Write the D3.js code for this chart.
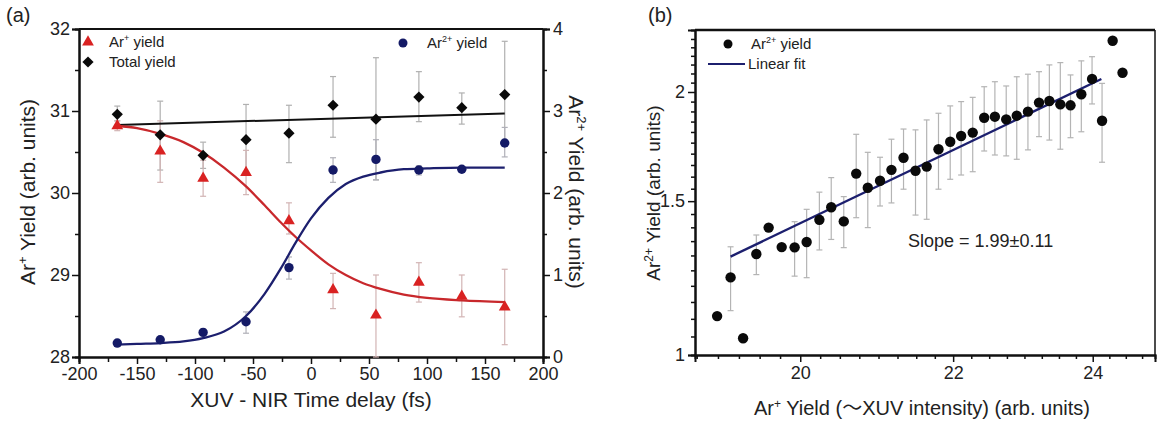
<!DOCTYPE html>
<html><head><meta charset="utf-8">
<script src="https://cdn.jsdelivr.net/npm/d3@7"></script>
<style>
body{margin:0;background:#fff}
text{font-family:Arial,"Liberation Sans","Noto Sans CJK SC",sans-serif;fill:#222}
</style>
</head><body>
<svg id="c" width="1157" height="424"></svg>
<script>
// ---------- Panel (a) data ----------
const delays = [-167,-130,-93,-56,-19,19,56,93,130,167];
const arPlus   = [30.82,30.51,30.18,30.25,29.66,28.82,28.51,28.91,28.74,28.61];
const arPlusLo = [30.76,30.13,29.96,29.98,29.50,28.59,28.00,28.67,28.49,28.15];
const arPlusHi = [30.88,30.88,30.40,30.52,29.88,29.02,29.00,29.15,29.00,29.07];
const total    = [30.96,30.71,30.46,30.65,30.73,31.07,30.90,31.17,31.04,31.20];
const totalLo  = [30.88,30.28,30.30,30.23,30.37,30.68,30.16,30.87,30.84,30.58];
const totalHi  = [31.06,31.12,30.62,31.08,31.07,31.42,31.65,31.48,31.22,31.85];
const ar2      = [0.17,0.21,0.30,0.43,1.09,2.28,2.41,2.28,2.29,2.61];
const ar2Lo    = [0.14,0.18,0.26,0.29,0.95,2.13,2.16,2.22,2.26,2.44];
const ar2Hi    = [0.20,0.24,0.34,0.55,1.22,2.43,2.65,2.33,2.32,2.80];
// fitted curves
const fitDelay = [-167,-150,-130,-110,-93,-75,-56,-40,-26,-13,0,15,30,45,60,80,100,130,167];
const arPlusFit= [30.82,30.79,30.72,30.62,30.49,30.31,30.08,29.85,29.64,29.46,29.30,29.13,29.00,28.90,28.83,28.76,28.72,28.69,28.67];
const ar2Fit   = [0.15,0.16,0.17,0.19,0.23,0.31,0.50,0.77,1.08,1.40,1.69,1.94,2.11,2.20,2.25,2.29,2.30,2.31,2.31];
const totalFitX = [-167,167];
const totalFitY = [30.83,30.97];
const xTicksA = [-200,-150,-100,-50,0,50,100,150,200];
const yTicksAL = [28,29,30,31,32];
const yTicksAR = [0,1,2,3,4];

// ---------- Panel (b) data ----------
const arPlusB = [18.99,19.15,19.30,19.46,19.61,19.77,19.93,20.08,20.24,20.39,20.55,20.71,20.86,21.02,21.17,21.33,21.49,21.64,21.80,21.96,22.11,22.27,22.43,22.58,22.74,22.89,23.05,23.21,23.36,23.52,23.67,23.83,23.99,24.14,24.30,24.45];
const ar2B    = [1.108,1.227,1.045,1.305,1.399,1.329,1.328,1.347,1.428,1.476,1.422,1.613,1.554,1.583,1.629,1.682,1.625,1.643,1.720,1.754,1.781,1.797,1.869,1.874,1.861,1.879,1.899,1.945,1.953,1.936,1.931,1.988,2.070,1.854,2.289,2.104];
const ar2BLo  = [null,1.124,null,1.236,null,null,1.231,1.226,1.319,1.356,1.327,1.436,1.399,1.481,1.493,1.548,1.446,1.430,1.548,1.589,1.607,1.621,1.712,1.694,1.690,1.675,1.717,1.778,1.762,1.720,1.773,1.801,1.938,1.662,null,null];
const ar2BHi  = [null,1.330,null,1.372,null,null,1.421,1.468,1.536,1.596,1.518,1.789,1.706,1.684,1.766,1.814,1.810,1.858,1.891,1.928,1.950,1.972,2.028,2.055,2.032,2.082,2.096,2.110,2.148,2.161,2.092,2.171,2.195,2.046,null,null];
const linFitX = [19.15,24.13];
const linFitY = [1.296,2.07];
const xTicksB = [20,22,24];
const yTicksB = [1,1.5,2];

const svg = d3.select("#c");

function styleAxis(g, w){
  g.select(".domain").attr("stroke","#111").attr("stroke-width",w);
  g.selectAll(".tick line").attr("stroke","#111").attr("stroke-width",1.5);
  g.selectAll(".tick text").attr("fill","#222").style("font-size","18px")
    .style("font-family","Arial, 'Liberation Sans', sans-serif");
}
function supLabel(sel, parts){
  parts.forEach(p=>{
    const t = sel.append("tspan").text(p.t);
    if(p.sup){ t.attr("dy", p.dy).style("font-size", p.fs); }
  });
}

// ================= Panel (a) =================
const ax = d3.scaleLinear().domain([-200,200]).range([79,543]);
const ayL = d3.scaleLinear().domain([28,32]).range([357,29]);
const ayR = d3.scaleLinear().domain([0,4]).range([357,29]);

// minor ticks
svg.append("g").attr("transform","translate(0,357)")
  .call(d3.axisBottom(ax).tickValues(d3.range(-175,200,50)).tickSize(5).tickFormat(""))
  .call(g=>styleAxis(g,2));
svg.append("g").attr("transform","translate(79,0)")
  .call(d3.axisLeft(ayL).tickValues(d3.range(28.5,32,1)).tickSize(4).tickFormat(""))
  .call(g=>styleAxis(g,2));
svg.append("g").attr("transform","translate(543,0)")
  .call(d3.axisRight(ayR).tickValues(d3.range(0.5,4,1)).tickSize(4).tickFormat(""))
  .call(g=>styleAxis(g,2));
// major ticks
svg.append("g").attr("transform","translate(0,357)")
  .call(d3.axisBottom(ax).tickValues(xTicksA).tickSize(7).tickPadding(3).tickFormat(d=>String(d)))
  .call(g=>styleAxis(g,2));
svg.append("g").attr("transform","translate(79,0)")
  .call(d3.axisLeft(ayL).tickValues(yTicksAL).tickSize(7).tickPadding(2).tickFormat(d=>String(d)))
  .call(g=>styleAxis(g,2));
svg.append("g").attr("transform","translate(543,0)")
  .call(d3.axisRight(ayR).tickValues(yTicksAR).tickSize(7).tickPadding(3).tickFormat(d=>String(d)))
  .call(g=>styleAxis(g,2));
svg.append("line").attr("x1",ax(-200)).attr("x2",ax(200)).attr("y1",ayL(32)).attr("y2",ayL(32))
  .attr("stroke","#111").attr("stroke-width",2);

// error bars
function errBars(g, xs, lo, hi, xsc, ysc, color, cap){
  xs.forEach((x,i)=>{
    if(lo[i]==null) return;
    const px = xsc(x);
    g.append("line").attr("x1",px).attr("x2",px).attr("y1",ysc(lo[i])).attr("y2",ysc(hi[i]))
      .attr("stroke",color).attr("stroke-width",1.2);
    [lo[i],hi[i]].forEach(v=>g.append("line").attr("x1",px-cap).attr("x2",px+cap)
      .attr("y1",ysc(v)).attr("y2",ysc(v)).attr("stroke",color).attr("stroke-width",1.2));
  });
}
const ga = svg.append("g");
errBars(ga, delays, totalLo, totalHi, ax, ayL, "#b0b0b0", 3);
errBars(ga, delays, arPlusLo, arPlusHi, ax, ayL, "#d2b4b4", 3);
errBars(ga, delays, ar2Lo, ar2Hi, ax, ayR, "#b0b0b8", 3);

// fits
ga.append("path").datum(totalFitX.map((x,i)=>[x,totalFitY[i]]))
  .attr("d", d3.line().x(d=>ax(d[0])).y(d=>ayL(d[1])))
  .attr("fill","none").attr("stroke","#111").attr("stroke-width",2);
ga.append("path").datum(fitDelay.map((x,i)=>[x,arPlusFit[i]]))
  .attr("d", d3.line().curve(d3.curveMonotoneX).x(d=>ax(d[0])).y(d=>ayL(d[1])))
  .attr("fill","none").attr("stroke","#c8282c").attr("stroke-width",2.3);
ga.append("path").datum(fitDelay.map((x,i)=>[x,ar2Fit[i]]))
  .attr("d", d3.line().curve(d3.curveMonotoneX).x(d=>ax(d[0])).y(d=>ayR(d[1])))
  .attr("fill","none").attr("stroke","#1c1f6e").attr("stroke-width",2.3);

// markers
const tri = d3.symbol().type(d3.symbolTriangle).size(60);
const dia = d3.symbol().type(d3.symbolDiamond2).size(80);
ga.selectAll(".tri").data(delays).join("path")
  .attr("transform",(d,i)=>`translate(${ax(d)},${ayL(arPlus[i])})`)
  .attr("d",tri()).attr("fill","#d92222");
ga.selectAll(".dia").data(delays).join("path")
  .attr("transform",(d,i)=>`translate(${ax(d)},${ayL(total[i])})`)
  .attr("d",dia()).attr("fill","#0a0a0a");
ga.selectAll(".cir").data(delays).join("circle")
  .attr("cx",d=>ax(d)).attr("cy",(d,i)=>ayR(ar2[i])).attr("r",4.7).attr("fill","#141a66");

// legend (a)
svg.append("path").attr("transform","translate(88,42)").attr("d",tri()).attr("fill","#d92222");
svg.append("path").attr("transform","translate(88,62)").attr("d",dia()).attr("fill","#0a0a0a");
svg.append("circle").attr("cx",403).attr("cy",43).attr("r",4.5).attr("fill","#141a66");
const l1 = svg.append("text").attr("x",109).attr("y",47).style("font-size","15px");
supLabel(l1,[{t:"Ar"},{t:"+",sup:true,dy:-6,fs:"9px"},{t:" yield"}]);
l1.selectAll("tspan").filter((d,i)=>i==2).attr("dy",6);
svg.append("text").attr("x",109).attr("y",67).style("font-size","15px").text("Total yield");
const l3 = svg.append("text").attr("x",427).attr("y",48).style("font-size","15px");
supLabel(l3,[{t:"Ar"},{t:"2+",sup:true,dy:-6,fs:"9px"},{t:" yield"}]);
l3.selectAll("tspan").filter((d,i)=>i==2).attr("dy",6);

// axis labels (a)
svg.append("text").attr("x",311).attr("y",407).attr("text-anchor","middle").style("font-size","21px")
  .text("XUV - NIR Time delay (fs)");
const yl = svg.append("text").attr("transform","translate(35,192) rotate(-90)").attr("text-anchor","middle").style("font-size","21px");
supLabel(yl,[{t:"Ar"},{t:"+",sup:true,dy:-8,fs:"13px"},{t:" Yield (arb. units)"}]);
yl.selectAll("tspan").filter((d,i)=>i==2).attr("dy",8);
const yr = svg.append("text").attr("transform","translate(569,192) rotate(90)").attr("text-anchor","middle").style("font-size","21px");
supLabel(yr,[{t:"Ar"},{t:"2+",sup:true,dy:-8,fs:"13px"},{t:" Yield (arb. units)"}]);
yr.selectAll("tspan").filter((d,i)=>i==2).attr("dy",8);

svg.append("text").attr("x",6).attr("y",22).style("font-size","20px").text("(a)");
svg.append("text").attr("x",648).attr("y",22).style("font-size","20px").text("(b)");

// ================= Panel (b) =================
const bx = d3.scaleLog().domain([18.73,24.95]).range([695,1155]);
const by = d3.scaleLog().domain([1,2.355]).range([355,30]);

const minorX = d3.range(18.75,25,0.25).filter(v=>!xTicksB.some(t=>Math.abs(t-v)<1e-6));
const minorY = d3.range(1.05,2.35,0.05).filter(v=>!yTicksB.some(t=>Math.abs(t-v)<1e-6));
svg.append("g").attr("transform","translate(0,355)")
  .call(d3.axisBottom(bx).tickValues(minorX).tickSize(4).tickFormat(""))
  .call(g=>styleAxis(g,2));
svg.append("g").attr("transform","translate(695,0)")
  .call(d3.axisLeft(by).tickValues(minorY).tickSize(4).tickFormat(""))
  .call(g=>styleAxis(g,2));
svg.append("g").attr("transform","translate(0,355)")
  .call(d3.axisBottom(bx).tickValues(xTicksB).tickSize(7).tickPadding(4).tickFormat(d=>String(d)))
  .call(g=>styleAxis(g,2));
svg.append("g").attr("transform","translate(695,0)")
  .call(d3.axisLeft(by).tickValues(yTicksB).tickSize(7).tickPadding(3).tickFormat(d=>String(d)))
  .call(g=>styleAxis(g,2));
svg.append("line").attr("x1",695).attr("x2",1155).attr("y1",30).attr("y2",30).attr("stroke","#111").attr("stroke-width",2.5);
svg.append("line").attr("x1",1155).attr("x2",1155).attr("y1",30).attr("y2",355).attr("stroke","#111").attr("stroke-width",1.5);

const gb = svg.append("g");
errBars(gb, arPlusB, ar2BLo, ar2BHi, bx, by, "#b4b4b4", 3);
gb.append("path").datum(linFitX.map((x,i)=>[x,linFitY[i]]))
  .attr("d", d3.line().x(d=>bx(d[0])).y(d=>by(d[1])))
  .attr("fill","none").attr("stroke","#1c1f6e").attr("stroke-width",2.3);
gb.selectAll("circle").data(arPlusB).join("circle")
  .attr("cx",d=>bx(d)).attr("cy",(d,i)=>by(ar2B[i])).attr("r",5.2).attr("fill","#0a0a0a");

// legend (b)
svg.append("circle").attr("cx",728).attr("cy",44).attr("r",4.5).attr("fill","#0a0a0a");
const lb1 = svg.append("text").attr("x",751).attr("y",49).style("font-size","15px");
supLabel(lb1,[{t:"Ar"},{t:"2+",sup:true,dy:-6,fs:"9px"},{t:" yield"}]);
lb1.selectAll("tspan").filter((d,i)=>i==2).attr("dy",6);
svg.append("line").attr("x1",708).attr("x2",745).attr("y1",64).attr("y2",64).attr("stroke","#1c1f6e").attr("stroke-width",2);
svg.append("text").attr("x",748).attr("y",69).style("font-size","15px").text("Linear fit");

svg.append("text").attr("x",908).attr("y",247).style("font-size","18px").text("Slope = 1.99\u00b10.11");

svg.append("text").attr("x",922).attr("y",415).attr("text-anchor","middle").style("font-size","20px")
  .call(t=>supLabel(t,[{t:"Ar"},{t:"+",sup:true,dy:-7,fs:"12px"},{t:" Yield (\uff5eXUV intensity) (arb. units)"}]))
  .call(t=>t.selectAll("tspan").filter((d,i)=>i==2).attr("dy",7));
const ylb = svg.append("text").attr("transform","translate(660,193) rotate(-90)").attr("text-anchor","middle").style("font-size","19px");
supLabel(ylb,[{t:"Ar"},{t:"2+",sup:true,dy:-7,fs:"12px"},{t:" Yield (arb. units)"}]);
ylb.selectAll("tspan").filter((d,i)=>i==2).attr("dy",7);
</script>
</body></html>
